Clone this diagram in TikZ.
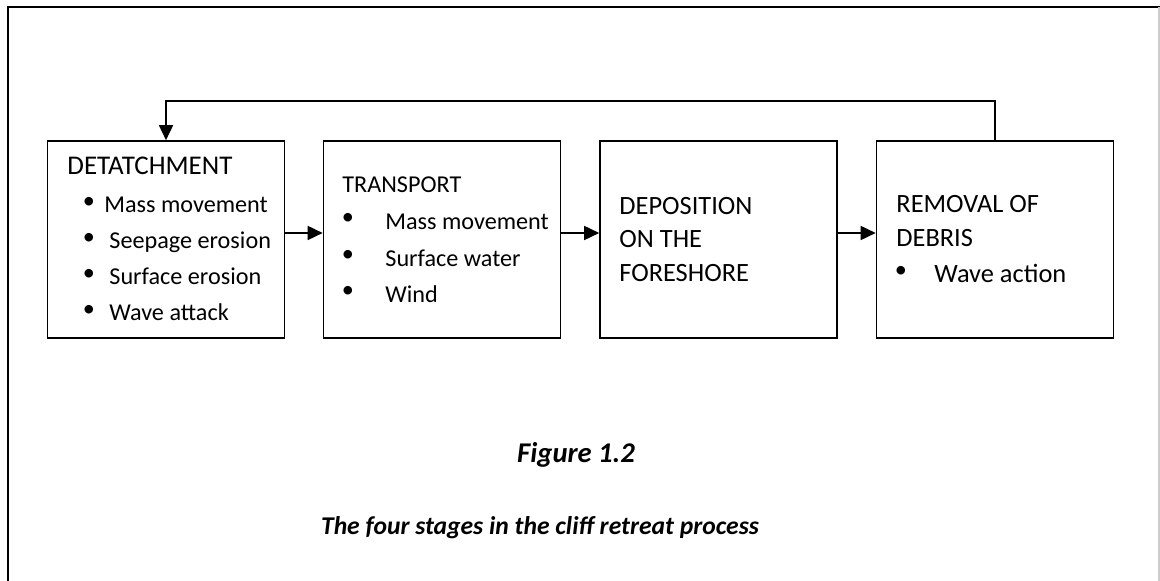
\documentclass[tikz,border=0pt]{standalone}
\usepackage{fontspec}
\setmainfont{Carlito}
\usetikzlibrary{arrows.meta}

\tikzset{
  stage/.style={draw, line width=0.8pt, minimum width=118.5pt, minimum height=98.5pt, inner sep=0pt},
  txt/.style={anchor=base west, inner sep=0pt, font=\fontsize{12.1}{15}\selectfont},
  bigtxt/.style={txt, font=\fontsize{13.2}{16}\selectfont},
  dot/.style={anchor=center, inner sep=0pt, font=\fontsize{12.1}{15}\selectfont},
  flow/.style={line width=0.8pt, -{Triangle[length=7.5pt,width=7pt]}},
  captxt/.style={anchor=base, inner sep=0pt, font=\fontsize{12.8}{15}\selectfont\bfseries\itshape}
}

\begin{document}
\begin{tikzpicture}[x=0.5pt,y=-0.5pt]
  \useasboundingbox (0,0) rectangle (1160,581);

  % frame
  \draw[line width=0.8pt] (8,581) -- (8,7) -- (1160,7);
  \draw[line width=0.8pt, black!20] (1159,7) -- (1159,581);

  % stages
  \node[stage] (b1) at (166,239.5) {};
  \node[stage] (b2) at (442,239.5) {};
  \node[stage] (b3) at (718.5,239.5) {};
  \node[stage] (b4) at (995,239.5) {};

  % detachment
  \node[txt, font=\fontsize{13.5}{16}\selectfont] (t1) at (67,175) {DETATCHMENT};
  \foreach \txt/\tx [count=\i] in {Mass movement/104, Seepage erosion/109, Surface erosion/109, Wave attack/109}{
    \node[dot] (d1\i) at (89,{213+36*(\i-1)-10}) {\textbullet};
    \node[txt] (i1\i) at (\tx,{213+36*(\i-1)}) {\txt};
  }

  % transport
  \node[txt] (t2) at (342,193) {TRANSPORT};
  \foreach \txt [count=\i] in {Mass movement, Surface water, Wind}{
    \node[dot] (d2\i) at (348,{230+36.5*(\i-1)-11}) {\textbullet};
    \node[txt] (i2\i) at (385,{230+36.5*(\i-1)}) {\txt};
  }

  % deposition
  \node[bigtxt] (t3a) at (619,215) {DEPOSITION};
  \node[bigtxt] (t3b) at (619,248) {ON THE};
  \node[bigtxt] (t3c) at (619,282) {FORESHORE};

  % removal
  \node[bigtxt] (t4a) at (896,213) {REMOVAL OF};
  \node[bigtxt] (t4b) at (896,247) {DEBRIS};
  \node[dot] (d41) at (901,272) {\textbullet};
  \node[bigtxt] (i41) at (934,283) {Wave action};

  % arrows
  \coordinate (ay) at (0,233);
  \draw[flow] (b1.east |- ay) -- (b2.west |- ay);
  \draw[flow] (b2.east |- ay) -- (b3.west |- ay);
  \draw[flow] (b3.east |- ay) -- (b4.west |- ay);
  \draw[flow] (b4.north) -- ++(0,-39) -| (b1.north);

  % caption
  \node[captxt, font=\fontsize{14.3}{17}\selectfont\bfseries\itshape] (fig) at (576,463) {Figure 1.2};
  \node[captxt] (title) at (540,535) {The four stages in the cliff retreat process};
\end{tikzpicture}
\end{document}
